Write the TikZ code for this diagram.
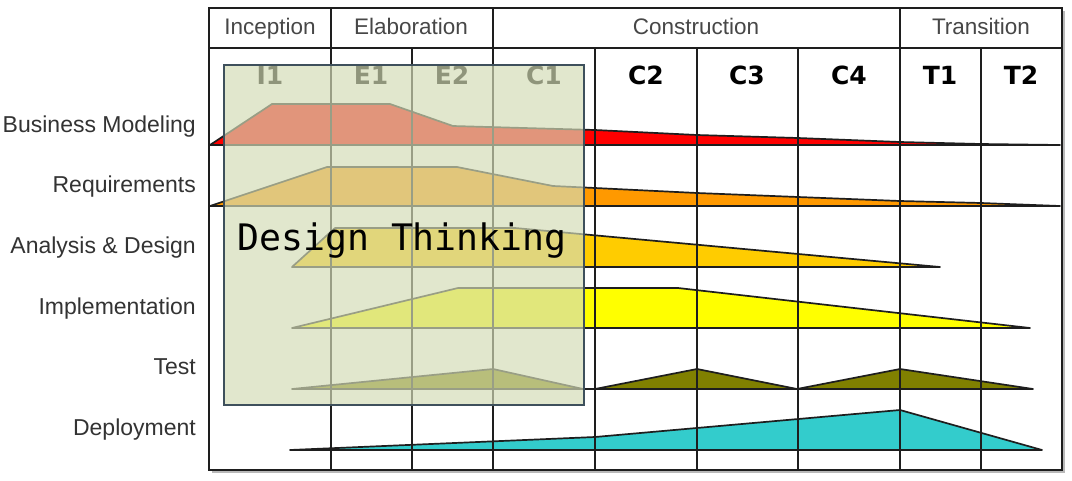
\documentclass[tikz,border=0pt]{standalone}
\usepackage{fontspec}
\setmainfont{Liberation Sans}
\newfontfamily\iterfont{DejaVu Sans}
\newfontfamily\dtfont{DejaVu Sans Mono}
\definecolor{rupred}{HTML}{FF0000}
\definecolor{ruporange}{HTML}{FF9900}
\definecolor{rupgold}{HTML}{FFCC00}
\definecolor{rupyellow}{HTML}{FFFF00}
\definecolor{rupolive}{HTML}{808000}
\definecolor{rupcyan}{HTML}{33CCCC}
\definecolor{gridc}{HTML}{1E1E1E}
\definecolor{hdrtext}{HTML}{474747}
\definecolor{rowtext}{HTML}{333333}
\definecolor{ovfill}{RGB}{212,220,182}
\definecolor{ovedge}{RGB}{62,80,92}
\tikzset{
  hump/.style={draw=gridc, line width=1.7pt, line join=round},
  gridline/.style={draw=gridc, line width=2.2pt},
  hdr/.style={anchor=base, text=hdrtext, font=\fontsize{22.5}{22.5}\selectfont, inner sep=0pt},
  iter/.style={anchor=base, text=black, font=\iterfont\bfseries\fontsize{25}{25}\selectfont, inner sep=0pt},
  rowlbl/.style={anchor=base east, text=rowtext, font=\fontsize{23}{23}\selectfont, inner sep=0pt},
  overlay/.style={fill=ovfill, fill opacity=0.68, draw=ovedge, draw opacity=1, line width=1.5pt}
}
\begin{document}
\begin{tikzpicture}[x=1pt, y=-1pt]
\useasboundingbox (0,0) rectangle (1072,480);
\fill[white] (0,0) rectangle (1072,480);
% humps
\path[hump, fill=rupred] (210,145) -- (272,104) -- (390,104) -- (453,126) -- (595,130) -- (697,135) -- (798,138) -- (900,142) -- (981,144) -- (1060,145) -- cycle;
\path[hump, fill=ruporange] (210,206) -- (327,167) -- (457,167) -- (553,186) -- (595,188) -- (697,193) -- (798,197) -- (900,201) -- (981,203) -- (1060,206) -- cycle;
\path[hump, fill=rupgold] (292,267) -- (335,228) -- (515,228) -- (940,267) -- cycle;
\path[hump, fill=rupyellow] (292,328) -- (458,288) -- (678,288) -- (1030,328) -- cycle;
\path[hump, fill=rupolive] (292,389) -- (493,369) -- (583,389) -- (595,389) -- (697,369) -- (797,389) -- (900,369) -- (1033,389) -- cycle;
\path[hump, fill=rupcyan] (290,450) -- (595,437) -- (900,410) -- (1042,450) -- cycle;
% grid
\draw[gray!55, line width=2pt] (1064,11) -- (1064,472) -- (212,472);
\draw[gridline] (209,8) rectangle (1062,470);
\draw[gridline] (209,48) -- (1062,48);
\foreach \x in {331,493,900} \draw[gridline] (\x,8) -- (\x,470);
\foreach \x in {412,595,697,798,981} \draw[gridline] (\x,48) -- (\x,470);
% header
\node[hdr] (inc) at (270,34) {Inception};
\node[hdr] (ela) at (411,34) {Elaboration};
\node[hdr] (con) at (696,34) {Construction};
\node[hdr] (tra) at (981,34) {Transition};
% iterations
\node[iter] (i1) at (270,84) {I1};
\node[iter] (e1) at (371,84) {E1};
\node[iter] (e2) at (452,84) {E2};
\node[iter] (c1) at (544,84) {C1};
\node[iter] (c2) at (646,84) {C2};
\node[iter] (c3) at (747,84) {C3};
\node[iter] (c4) at (849,84) {C4};
\node[iter] (t1) at (940,84) {T1};
\node[iter] (t2) at (1021,84) {T2};
% row labels
\node[rowlbl] (bm) at (196,132) {Business Modeling};
\node[rowlbl] (rq) at (196,192.5) {Requirements};
\node[rowlbl] (ad) at (196,253) {Analysis \& Design};
\node[rowlbl] (im) at (196,314) {Implementation};
\node[rowlbl] (ts) at (196,374.5) {Test};
\node[rowlbl] (dp) at (196,435) {Deployment};
% overlay
\path[overlay] (224,65) rectangle (584,405);
\node[anchor=base west, inner sep=0pt, font=\dtfont\fontsize{36.5}{36.5}\selectfont] (dt) at (237,250) {Design Thinking};
\end{tikzpicture}
\end{document}
